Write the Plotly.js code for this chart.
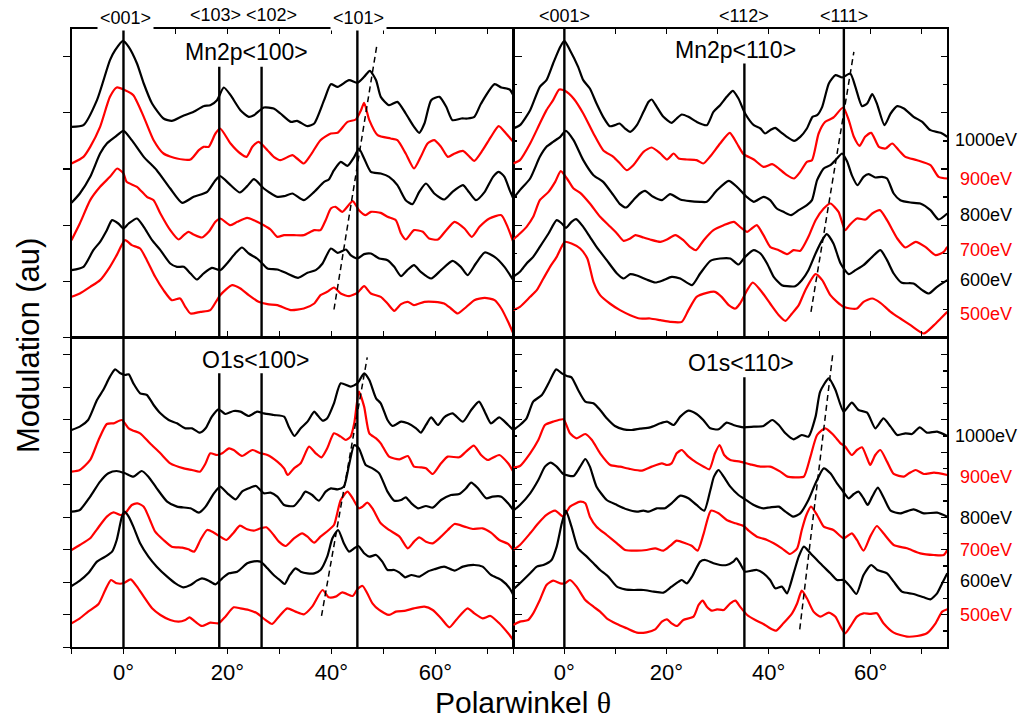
<!DOCTYPE html>
<html>
<head>
<meta charset="utf-8">
<script src="https://cdn.plot.ly/plotly-3.0.1.min.js"></script>
<style>html,body{margin:0;padding:0;background:#fff;}#chart{width:1034px;height:719px;}</style>
</head>
<body>
<div id="chart"></div>
<script>
// ---------------- DATA ----------------
const energies = ['1000eV', '900eV', '800eV', '700eV', '600eV', '500eV'];
const energyColors = ['#000000', '#ff0000', '#000000', '#ff0000', '#000000', '#ff0000'];

const dir100Angles = [0, 18.43, 26.57, 45];
const dir100Labels = ['<001>', '<103>', '<102>', '<101>'];
const dir110Angles = [0, 35.26, 54.74];
const dir110Labels = ['<001>', '<112>', '<111>'];

const panelTitles = ['Mn2p<100>', 'Mn2p<110>', 'O1s<100>', 'O1s<110>'];
const xTickVals = [0, 20, 40, 60];

// Mn2p <100>  (polar angle in degrees, modulation in au incl. offset)
const mn100_1000_ang = [-10,-7.7,-5.1,-2.6,-1.6,-0.1,1.0,2.6,3.9,5.5,7.7,9.3,11.3,13.5,15.4,16.7,18.0,19.3,20.6,22.5,24.1,25.1,27.0,28.9,30.2,32.2,33.4,35.4,36.7,38.6,39.9,41.2,43.4,45.0,46.3,47.4,48.6,49.5,51.1,52.7,54.3,55.9,56.9,57.9,59.2,60.8,62.1,63.3,65.0,66.2,67.5,68.8,71.4,72.7,74.3,75];
const mn100_1000_mod = [63.2,63.7,71.2,83.2,86.2,89.0,87.2,82.2,76.2,70.2,65.7,65.0,66.4,67.7,69.4,69.7,71.2,75.0,72.7,68.2,66.2,66.7,69.0,68.7,67.2,64.7,65.0,63.4,64.2,71.2,76.0,75.2,77.2,76.4,78.2,80.0,77.2,72.2,69.7,70.7,67.2,63.2,61.4,64.2,71.2,72.2,69.2,65.2,65.7,65.7,66.2,70.2,76.0,75.0,74.4,72.7];
const mn100_900_ang = [-10,-7.7,-6.4,-4.5,-2.6,-1.3,0.3,1.9,3.9,5.8,7.7,10.3,12.9,14.5,15.4,16.4,17.7,18.6,20.6,22.5,23.7,24.8,26.0,27.7,28.9,30.2,32.5,33.4,34.7,36.0,37.9,39.9,41.2,43.1,44.7,45.7,46.3,47.3,48.9,51.4,52.7,54.3,55.9,57.2,58.5,59.8,61.1,62.4,63.7,65.3,66.6,67.5,69.1,70.7,72.2,73.6,75];
const mn100_900_mod = [52.2,54.2,57.2,63.2,72.2,75.0,74.2,72.7,66.2,59.2,55.2,53.7,53.4,56.2,57.2,57.2,61.2,62.7,58.2,55.2,54.2,57.2,58.7,56.2,54.2,53.2,54.7,53.7,52.2,54.7,59.2,61.2,61.4,64.7,65.4,68.2,70.4,65.2,60.7,59.7,59.2,55.2,50.7,54.2,58.2,59.2,57.2,54.2,55.2,56.0,54.2,53.0,56.2,60.2,63.4,61.2,58.7];
const mn100_800_ang = [-10,-8.4,-6.4,-4.5,-3.2,-1.6,0,1.6,3.9,6.4,9.0,11.3,13.5,16.1,17.7,18.6,20.6,22.4,23.8,25.1,27.0,29.6,30.9,32.5,34.7,36.7,38.6,39.5,40.5,41.8,43.1,44.4,45.3,46.3,47.6,49.5,51.1,52.7,54.3,55.6,56.9,58.2,59.8,61.7,63.3,65.3,66.2,67.8,69.5,71.1,72.2,73.3,74.3,75];
const mn100_800_mod = [40.4,43.2,48.2,55.2,58.2,60.2,62.0,59.2,54.2,50.2,44.7,40.4,42.2,43.7,47.2,48.4,45.7,43.5,45.4,47.5,44.7,42.2,42.4,43.2,41.2,43.7,46.7,47.4,50.2,52.7,51.5,54.2,56.7,53.7,49.7,49.2,48.2,45.7,41.2,40.0,43.7,46.2,43.2,41.4,43.7,45.7,44.2,41.2,43.7,48.2,49.7,48.2,44.2,41.7];
const mn100_700_ang = [-10,-8.4,-6.4,-4.5,-2.6,-1.2,0,0.6,2.6,4.5,5.8,7.1,9.0,10.6,11.6,12.5,13.5,15.1,16.4,17.7,18.6,20.6,21.9,23.8,25.1,27.0,28.3,29.6,30.9,32.8,34.7,36.7,37.9,38.9,39.9,40.8,42.1,44.1,45.3,46.6,47.6,49.5,50.8,52.4,53.4,54.3,55.9,57.6,58.8,60.5,62.1,63.7,65.6,67.0,68.5,70.4,72.7,73.9,75];
const mn100_700_mod = [29.2,34.2,41.2,45.2,48.2,50.7,49.2,46.7,45.2,42.2,41.2,37.2,32.2,29.4,30.7,31.7,30.9,30.0,31.7,34.7,35.7,33.7,34.7,35.9,35.2,33.7,32.4,30.2,30.7,30.7,30.7,32.2,32.2,35.2,38.7,39.2,37.7,40.9,38.2,36.7,37.7,37.4,36.2,35.2,31.2,29.4,32.2,31.7,29.7,29.4,32.2,34.7,32.7,30.2,33.2,35.7,36.7,33.2,28.6];
const mn100_600_ang = [-10,-7.7,-5.8,-4.5,-3.2,-2.2,-1.0,0,1.0,2.6,3.9,5.5,7.1,9.0,10.3,11.6,12.9,14.1,15.4,17.0,18.6,19.9,21.5,22.8,24.1,25.7,26.7,27.7,29.6,31.5,33.6,35.4,37.0,38.3,39.9,41.2,42.8,43.7,45.0,46.3,47.6,49.2,50.8,52.1,53.4,54.6,55.9,57.2,59.2,61.1,63.3,64.9,66.2,67.8,69.5,71.4,73.3,75];
const mn100_600_mod = [20.2,21.2,26.2,28.7,32.2,35.2,34.2,32.7,34.2,35.7,33.2,29.2,26.2,22.2,21.2,21.2,19.2,17.4,19.2,20.9,20.2,22.2,25.2,27.0,25.2,23.7,22.2,20.7,20.4,19.2,17.9,19.4,20.2,22.2,26.7,25.4,26.4,24.7,23.7,25.0,25.2,23.7,23.2,21.2,18.4,20.2,21.7,19.7,17.7,20.2,23.0,21.2,18.7,22.2,25.5,24.2,21.2,17.2];
const mn100_500_ang = [-10,-8.4,-6.4,-4.5,-2.6,-1.3,0.3,1.6,3.2,4.5,6.1,7.7,9.3,10.9,11.9,12.9,14.8,16.7,18.6,20.9,22.5,24.1,26.0,27.7,29.6,32.2,34.7,36.7,37.9,39.2,40.5,41.8,43.4,45.0,46.3,47.6,49.5,50.8,52.1,53.4,54.7,55.9,57.9,59.8,61.7,63.0,64.3,65.6,67.5,69.5,71.4,72.7,74.0,75];
const mn100_500_mod = [12.2,13.2,15.2,17.2,21.2,24.7,29.2,27.7,26.7,23.2,18.2,14.2,11.2,11.7,9.2,7.2,7.7,8.2,12.7,15.7,14.7,12.7,10.7,10.0,9.7,8.2,8.7,10.2,12.7,13.7,15.0,13.2,12.4,13.4,15.4,13.2,12.2,10.2,8.0,10.0,10.7,9.7,10.7,10.7,10.2,8.7,7.2,8.7,11.2,11.9,11.2,8.7,4.7,1.2];

// Mn2p <110>
const mn110_1000_ang = [-10,-8.7,-6.7,-4.8,-3.5,-2.2,-0.8,0,1.1,2.7,3.7,5.0,6.3,7.6,8.9,9.9,10.8,11.9,12.9,14.2,15.5,16.5,17.1,18.1,19.4,21.0,22.0,23.0,24.3,25.9,27.9,29.2,30.5,31.8,33.0,34.1,35.4,37.1,38.4,39.3,40.3,41.3,42.3,43.6,45.0,46.2,47.5,48.6,49.5,50.5,51.8,53.1,54.4,56.0,57.0,58.3,59.3,60.3,61.2,62.7,63.9,65.2,66.5,68.4,70.1,71.7,73.7,75];
const mn110_1000_mod = [62.7,63.7,68.2,75.2,77.2,82.2,87.2,89.0,86.2,81.2,77.2,74.7,70.2,66.2,63.4,63.7,64.2,62.7,61.7,63.7,67.7,70.7,71.4,69.2,66.2,64.4,65.7,66.9,66.2,64.7,63.7,67.7,69.7,72.2,74.0,71.7,67.2,63.7,62.7,61.2,62.2,62.9,61.7,60.2,59.0,60.2,62.7,66.2,66.7,69.2,76.2,78.7,78.0,79.2,75.2,69.4,70.2,73.0,70.2,63.7,67.2,69.4,68.7,66.2,64.7,62.2,61.4,60.2];
const mn110_900_ang = [-10,-8.7,-6.7,-4.8,-3.5,-2.2,-1.0,0.1,1.8,3.7,5.7,7.6,9.6,10.9,12.2,13.5,15.5,17.1,18.8,20.1,21.4,22.4,24.0,25.9,27.2,28.5,30.5,32.4,33.8,35.1,37.1,39.0,40.7,41.6,43.6,45.0,46.2,47.5,48.5,49.8,51.1,52.7,54.6,55.7,56.7,57.8,58.9,60.1,61.6,62.9,64.2,65.5,66.8,69.1,71.7,73.3,75];
const mn110_900_mod = [52.2,53.2,58.2,64.2,68.2,71.2,74.4,74.0,71.7,67.2,61.2,56.2,54.2,52.2,50.2,51.7,55.7,57.0,55.2,53.4,55.2,53.7,53.4,53.2,52.2,54.2,58.2,61.4,58.2,55.0,53.4,51.2,52.0,51.2,48.7,47.7,49.7,52.7,53.2,61.2,64.7,66.0,69.0,65.2,60.2,57.5,60.2,61.4,57.2,56.7,58.2,56.2,54.2,53.2,51.7,48.2,47.7];
const mn110_800_ang = [-10,-8.7,-6.7,-4.8,-3.5,-2.2,-0.8,0.3,1.8,3.7,5.7,7.6,9.6,10.9,12.1,13.5,14.8,15.8,17.4,19.1,20.7,22.7,24.6,26.6,27.9,29.9,32.2,33.8,35.7,37.1,39.0,40.3,41.6,42.9,44.4,45.9,47.5,48.5,49.5,50.8,52.1,53.4,54.4,55.4,56.3,57.4,58.6,59.6,60.9,62.2,63.2,64.5,65.8,67.8,69.7,71.7,73.3,75];
const mn110_800_mod = [41.7,44.2,47.7,54.2,57.2,58.7,60.2,62.0,59.2,53.2,48.7,46.7,42.7,40.0,39.0,41.2,43.2,44.0,42.2,41.2,43.0,41.4,40.9,40.7,40.7,44.2,47.0,45.2,42.2,40.7,42.2,41.2,38.7,37.7,36.7,38.2,39.7,41.2,47.2,50.7,51.7,53.7,55.2,52.7,48.7,45.7,48.2,49.0,48.0,48.2,47.7,43.2,41.2,40.5,40.2,38.2,35.4,37.2];
const mn110_700_ang = [-10,-8.7,-7.4,-6.1,-4.8,-3.1,-1.8,-0.7,0.5,1.8,3.1,5.0,7.0,9.0,10.3,11.6,12.9,13.9,15.5,16.8,18.8,20.1,21.7,23.3,24.6,25.8,27.3,29.2,31.2,33.2,34.4,35.8,36.7,37.7,39.0,40.3,42.0,43.6,44.9,46.2,47.8,49.2,50.8,52.1,53.7,55.0,56.0,57.3,59.0,60.3,61.8,63.2,65.2,66.8,68.8,70.7,72.7,74.3,75];
const mn110_700_mod = [29.4,31.2,33.2,36.2,41.2,43.7,46.7,49.9,47.7,44.7,43.4,40.2,36.2,33.2,31.2,29.0,29.7,30.7,30.0,29.4,28.7,29.4,30.7,29.2,27.2,26.2,29.2,32.2,33.7,34.7,33.2,31.7,32.7,33.7,30.7,27.2,26.2,25.0,26.2,26.0,30.2,35.2,38.7,40.2,37.7,32.2,34.0,35.7,35.4,37.2,38.2,35.2,29.7,27.0,28.7,27.2,24.7,25.7,27.2];
const mn110_600_ang = [-10,-8.7,-7.4,-6.1,-4.8,-3.1,-1.5,-0.5,0.3,1.4,2.3,3.7,5.0,6.3,8.3,10.3,11.6,12.9,14.2,16.1,17.8,19.4,21.0,22.7,25.0,26.6,28.6,30.5,32.5,34.1,35.4,37.1,38.4,39.7,41.0,42.6,43.6,45.2,46.5,47.8,49.2,50.5,51.4,52.7,54.1,55.7,57.0,58.6,60.3,61.9,63.2,64.5,66.1,68.4,70.1,71.4,73.0,75];
const mn110_600_mod = [18.2,19.7,22.2,24.2,27.2,31.2,35.2,34.2,32.9,34.7,35.5,33.2,30.2,27.2,23.2,19.2,17.7,19.0,18.6,17.4,16.5,17.2,18.2,17.7,15.7,19.2,23.0,23.7,23.7,21.9,24.2,26.2,25.2,22.2,18.2,15.7,15.4,15.4,17.2,20.2,25.2,29.2,31.0,28.2,22.2,19.0,20.2,21.7,24.2,26.2,23.2,19.2,16.4,16.2,14.2,13.2,15.2,17.2];
const mn110_500_ang = [-10,-8.7,-6.7,-5.4,-4.1,-2.8,-1.5,0.1,1.4,3.1,4.5,5.7,7.0,8.9,10.9,12.9,14.8,16.8,18.8,20.7,23.0,24.3,25.9,27.9,29.5,30.8,32.2,33.5,34.4,35.8,36.9,38.4,40.3,42.0,43.3,44.6,45.9,47.2,49.2,50.5,52.1,53.4,54.7,56.0,57.3,58.6,60.3,61.9,63.9,65.8,67.8,70.4,72.4,73.7,75];
const mn110_500_mod = [8.2,9.2,12.2,14.2,17.7,21.2,24.2,28.7,28.2,26.7,23.7,16.7,12.7,10.2,8.2,6.7,5.7,5.7,5.2,4.7,4.7,8.2,12.2,13.4,13.7,12.2,9.7,8.7,10.2,14.2,16.5,14.2,10.2,6.7,5.0,7.2,9.7,14.2,19.0,17.2,12.7,10.7,9.2,8.7,8.7,10.7,11.7,10.4,7.7,5.7,3.7,1.2,3.7,5.7,7.7];

// O1s <100>
const o100_1000_ang = [-10,-8.4,-6.8,-5.1,-3.9,-2.6,-1.6,-0.6,0.3,1.0,1.9,3.2,4.5,5.8,7.1,8.7,10.3,11.9,13.2,14.7,15.8,17.0,18.3,19.6,21.2,22.5,24.1,25.7,27.0,28.9,30.9,31.8,32.9,34.1,35.4,36.7,37.3,38.3,39.2,40.5,41.8,43.7,45.0,46.3,47.3,48.6,49.5,50.8,51.8,53.4,54.7,56.3,57.2,58.2,59.2,60.5,61.7,63.3,65.3,66.9,68.4,69.5,70.7,72.3,74.0,75];
const o100_1000_mod = [65.2,66.2,68.2,74.2,77.2,81.2,83.4,82.2,81.7,81.9,79.2,76.2,75.7,72.7,70.2,68.2,67.2,65.7,65.7,64.4,65.7,69.2,71.4,70.0,70.9,70.7,69.4,70.7,70.2,69.7,69.2,66.2,63.4,65.7,67.7,70.7,69.7,68.0,68.7,73.2,79.2,78.2,79.2,82.2,80.2,74.7,73.2,68.2,66.4,67.7,67.2,65.7,64.4,66.7,69.0,66.7,69.0,70.2,67.7,71.2,73.7,70.7,67.2,69.0,66.7,65.2];
const o100_900_ang = [-10,-8.4,-6.4,-4.8,-3.2,-1.9,-0.3,1.0,1.9,3.2,5.1,7.1,9.0,11.6,13.2,14.7,15.8,16.7,18.0,19.0,20.3,21.2,22.8,24.8,26.4,27.7,29.6,30.9,31.6,32.8,34.1,35.7,37.0,38.1,39.2,40.5,41.8,42.8,43.7,44.4,45.3,46.3,47.3,48.6,49.5,51.1,53.1,54.7,55.9,57.2,58.2,59.5,61.1,62.4,64.6,65.9,67.4,68.8,70.1,72.3,74.0,75];
const o100_900_mod = [52.7,53.2,56.2,62.2,67.0,67.2,68.2,65.7,65.0,64.2,61.2,58.2,55.2,53.7,53.2,52.7,55.2,58.2,57.7,58.2,59.7,59.2,57.4,59.2,58.2,57.7,55.7,53.7,51.7,53.7,55.2,60.2,58.2,57.0,59.7,64.2,63.2,62.2,63.2,67.2,76.7,72.2,64.2,62.7,61.2,57.2,56.4,57.4,54.2,54.0,53.7,52.0,55.2,57.2,57.0,58.7,60.5,57.7,56.2,57.7,55.2,52.7];
const o100_800_ang = [-10,-8.4,-6.4,-4.5,-2.9,-1.3,0.3,1.9,3.5,4.8,6.4,8.4,10.3,12.9,14.5,15.8,17.4,18.6,20.0,21.6,22.8,24.1,25.5,27.0,28.3,29.6,30.9,32.8,34.1,35.0,36.3,37.6,38.9,39.9,41.2,42.4,43.4,44.4,45.3,46.6,47.9,49.2,50.8,52.1,53.4,54.3,55.4,56.7,58.2,59.5,61.1,63.0,64.6,65.9,66.9,68.2,69.8,71.0,72.7,74.0,75];
const o100_800_mod = [40.7,41.2,45.2,49.7,52.2,52.9,52.2,51.2,52.9,51.2,47.7,43.7,42.2,41.7,40.4,42.2,46.2,48.2,46.2,44.4,46.7,47.7,48.4,46.2,46.4,45.2,42.7,42.4,44.7,46.7,45.7,44.0,46.7,47.7,47.4,48.2,54.7,60.7,59.7,54.7,53.7,52.2,46.7,44.0,44.2,45.0,43.2,41.7,42.4,41.9,44.2,45.7,46.0,47.7,49.4,47.7,44.7,45.2,45.2,43.2,41.2];
const o100_700_ang = [-10,-8.4,-6.4,-5.1,-3.2,-1.9,-0.6,0.3,1.6,2.7,3.9,5.1,6.1,7.7,9.3,11.3,12.5,13.6,14.8,16.1,17.4,18.6,19.8,21.2,22.4,23.8,25.1,26.4,27.5,28.9,29.9,31.2,32.8,34.4,35.4,36.7,37.9,39.5,40.5,41.8,43.1,44.1,45.3,46.0,46.9,47.9,49.5,51.1,53.1,54.7,55.9,56.9,58.2,59.5,61.1,62.4,63.7,65.6,67.2,69.1,70.7,72.3,74.0,75];
const o100_700_mod = [29.2,30.7,32.7,35.4,39.2,40.5,39.7,40.2,42.7,43.2,42.2,38.2,34.7,32.2,30.2,29.9,29.4,28.7,32.2,35.2,34.4,33.2,32.2,34.4,36.5,35.4,35.0,35.7,36.0,33.7,31.7,30.4,32.7,34.2,33.2,31.4,33.2,35.2,36.7,44.2,46.7,44.7,41.7,42.2,43.4,41.7,37.2,35.2,33.2,29.7,31.7,33.0,31.7,31.2,33.2,35.2,37.0,36.2,35.5,35.7,34.4,32.2,31.0,29.2];
const o100_600_ang = [-10,-8.4,-6.8,-5.1,-3.5,-2.2,-1.3,-0.3,0.2,1.0,1.9,3.2,4.8,6.4,8.4,10.0,11.5,12.9,14.1,15.1,16.4,17.7,19.0,20.3,21.9,23.8,25.1,26.4,27.7,28.9,30.2,31.0,32.0,33.1,34.1,35.4,36.7,37.9,39.2,40.2,41.3,42.4,43.4,44.4,45.2,46.3,47.3,48.6,49.8,50.8,52.1,53.1,54.2,55.4,56.9,58.5,59.8,61.7,63.7,65.3,67.5,69.1,70.7,72.7,74.3,75];
const o100_600_mod = [18.4,20.0,22.2,25.7,27.2,28.7,32.2,39.2,40.7,39.2,36.2,31.2,27.2,24.2,21.2,19.2,18.0,18.7,20.0,20.7,20.0,18.9,20.7,22.2,22.7,25.2,25.8,25.7,23.7,21.7,20.0,19.0,21.7,23.7,22.7,22.2,22.2,23.2,27.2,32.7,35.2,31.2,28.7,29.7,30.4,28.2,27.2,27.7,25.7,23.2,23.2,22.4,21.0,21.7,21.2,22.7,23.4,24.2,23.0,24.2,24.7,24.2,21.7,20.2,17.7,15.7];
const o100_500_ang = [-10,-8.4,-6.8,-4.8,-3.5,-2.4,-1.3,0,1.4,2.6,3.9,5.5,7.1,9.0,10.6,11.9,12.7,13.8,15.1,16.7,18.3,19.6,21.2,22.5,24.1,25.7,27.3,28.6,29.9,31.5,33.1,34.7,36.3,38.3,39.5,40.8,42.1,44.1,45.0,46.0,46.9,47.9,49.2,51.1,52.4,54.3,55.9,57.9,59.5,61.1,62.7,64.0,66.2,67.5,69.1,70.6,72.3,74.0,75];
const o100_500_mod = [7.2,8.7,10.7,13.0,17.2,20.2,19.2,19.2,20.4,18.2,15.2,11.7,9.7,8.2,7.7,8.2,9.0,7.7,6.4,7.4,7.2,9.2,12.0,11.7,11.2,10.2,8.2,7.0,9.2,11.7,10.7,9.9,12.2,17.2,15.0,15.2,16.5,15.4,17.4,18.4,16.2,13.2,11.2,9.7,10.7,11.0,11.7,12.2,11.2,8.7,6.0,8.2,11.7,10.2,8.7,9.4,7.2,4.2,2.2];

// O1s <110>
const o110_1000_ang = [-10,-8.7,-7.4,-6.1,-4.4,-3.1,-1.6,-0.5,0.5,1.4,2.7,4.1,5.7,7.0,8.3,9.9,11.6,13.2,14.8,16.8,18.8,20.1,21.4,22.7,24.3,25.9,27.2,28.6,30.2,31.8,33.1,35.1,37.1,39.0,40.7,42.0,43.3,44.9,46.5,47.8,49.2,50.1,51.8,53.1,54.7,56.3,57.6,59.3,60.9,62.5,63.9,65.2,66.8,68.1,69.6,71.0,73.0,75];
const o110_1000_mod = [65.2,66.7,68.7,73.7,75.7,79.2,83.4,82.2,81.4,81.0,77.2,73.7,73.2,71.2,68.7,66.4,65.4,65.2,65.6,66.0,67.2,67.7,66.7,69.2,71.0,70.0,68.2,65.7,65.4,67.4,66.7,66.0,66.2,66.4,68.2,66.7,64.2,62.4,63.7,63.2,69.2,76.7,80.7,77.2,70.7,73.4,71.2,70.4,65.7,68.7,66.2,63.7,64.2,64.0,66.0,64.4,64.7,63.4];
const o110_900_ang = [-10,-8.7,-6.7,-5.1,-3.8,-2.2,-0.2,1.1,2.4,4.1,5.4,7.0,9.0,10.9,12.9,15.2,17.1,19.1,20.1,21.0,22.0,23.0,24.3,25.9,27.3,28.4,29.5,30.4,31.3,32.5,34.4,36.4,38.4,40.3,42.3,43.7,45.6,46.9,48.2,49.5,51.1,52.7,54.1,55.0,56.3,57.3,58.3,59.3,59.9,60.9,61.9,63.2,64.5,66.5,67.5,68.8,70.4,72.4,75];
const o110_900_mod = [53.9,54.4,58.2,62.2,66.7,67.7,68.4,64.2,62.7,64.0,62.2,58.2,54.7,54.2,53.5,53.0,54.2,55.2,54.7,55.2,58.2,59.2,57.2,55.4,54.2,53.4,58.2,60.7,57.7,56.2,55.7,54.9,54.2,54.2,52.7,51.2,51.0,51.2,57.2,63.7,65.7,63.7,61.2,60.2,57.7,59.2,60.0,56.7,54.7,57.7,59.2,55.7,52.0,51.2,52.2,53.2,52.0,52.4,51.7];
const o110_800_ang = [-10,-8.7,-6.7,-5.1,-3.8,-2.7,-1.5,-0.2,1.8,3.1,4.1,5.0,6.3,8.3,10.3,12.2,14.2,15.5,16.5,18.1,19.7,21.0,22.7,24.3,25.9,27.4,28.6,29.3,30.2,31.2,32.5,34.1,35.4,37.1,39.0,40.3,42.0,43.3,44.8,46.2,47.8,49.2,50.8,52.1,53.4,54.4,55.7,56.7,57.6,58.6,59.4,60.3,61.4,62.6,63.9,65.8,68.4,70.4,73.0,75];
const o110_800_mod = [41.0,42.7,46.2,50.2,54.2,55.4,54.2,52.0,51.4,54.2,56.5,54.2,48.2,44.2,42.7,41.4,40.7,41.0,40.7,41.7,41.7,43.2,45.5,44.7,42.7,41.0,47.2,51.2,53.2,51.2,48.2,45.7,44.4,42.7,41.7,42.0,42.2,40.7,39.2,40.2,44.2,49.2,53.7,52.2,49.2,47.2,44.7,46.0,46.7,44.7,42.7,45.2,47.9,44.7,41.0,40.2,41.4,40.2,40.4,39.2];
const o110_700_ang = [-10,-8.7,-6.7,-5.1,-3.5,-1.8,-0.2,1.1,3.1,4.1,5.0,6.3,8.3,10.3,11.9,14.2,16.1,17.8,19.4,20.7,22.0,23.7,25.0,26.1,27.3,28.7,30.2,31.8,33.5,35.1,36.1,37.7,38.7,39.7,41.0,42.6,44.2,45.6,46.5,47.4,48.3,49.5,50.8,52.7,54.7,56.3,57.3,58.6,59.9,61.2,62.5,64.5,67.1,69.7,72.4,74.3,75];
const o110_700_mod = [29.2,30.7,34.2,37.2,39.7,41.0,39.2,42.2,43.7,43.2,39.2,36.2,33.7,31.2,29.2,29.0,29.2,29.7,29.0,30.4,32.0,31.2,30.4,29.0,34.2,41.0,40.2,38.2,37.2,36.4,35.0,33.2,32.7,32.2,31.2,29.7,28.0,29.7,35.2,39.7,42.2,39.7,36.2,35.2,32.7,34.2,32.2,29.0,33.2,36.4,34.2,30.7,29.7,28.2,27.7,27.7,29.2];
const o110_600_ang = [-10,-8.7,-6.7,-5.4,-4.1,-2.5,-1.5,-0.5,0.3,1.4,2.7,4.4,5.7,7.0,8.6,10.3,11.9,13.5,15.5,17.5,19.4,21.0,22.4,23.0,24.0,25.0,26.6,27.6,29.2,30.5,31.8,33.1,33.7,34.4,35.4,36.7,37.7,39.0,40.3,41.3,42.6,43.6,44.9,45.9,46.9,48.2,50.1,52.1,53.4,54.7,56.0,57.2,58.6,60.1,61.3,63.2,64.5,66.1,68.4,70.4,71.7,73.0,74.0,75];
const o110_600_mod = [17.4,19.2,22.2,24.2,24.7,26.2,30.2,37.2,41.0,36.2,29.7,27.2,25.2,23.2,21.2,18.2,17.4,17.2,17.2,16.7,16.4,18.2,19.7,20.2,19.2,21.2,25.7,26.2,25.2,24.7,24.7,25.7,26.7,25.2,22.7,23.0,23.2,22.2,20.2,17.7,18.2,16.2,22.2,27.2,30.2,28.2,25.2,22.2,20.2,20.2,18.2,16.0,21.7,24.7,23.2,22.2,19.7,16.7,16.0,15.0,14.4,16.2,19.2,22.2];
const o110_500_ang = [-10,-8.7,-7.1,-6.1,-4.8,-3.5,-2.2,-0.8,0.1,1.1,2.4,4.1,5.7,7.0,8.3,10.3,12.2,14.2,16.1,17.8,19.1,20.1,21.0,22.1,23.3,25.3,26.3,27.1,27.9,28.9,29.9,31.2,32.5,33.5,34.4,35.8,37.4,39.0,40.3,41.5,42.9,44.6,45.6,46.5,47.5,48.8,50.1,51.8,53.1,54.1,55.0,56.0,57.3,58.6,59.9,61.2,62.5,64.5,67.1,69.1,71.0,72.7,74.0,75];
const o110_500_mod = [6.7,7.7,8.2,10.2,14.2,18.7,20.0,19.2,19.2,20.2,18.2,14.2,12.2,10.7,8.7,7.0,5.7,4.4,4.5,5.4,7.7,8.4,7.2,6.4,8.2,9.2,12.7,14.0,12.2,11.0,11.4,11.2,13.2,14.0,12.2,9.7,8.2,7.0,5.7,5.0,7.2,10.2,13.2,17.0,14.7,10.7,9.2,10.4,9.2,6.2,4.2,6.2,9.2,10.2,10.0,10.2,7.2,4.4,3.2,3.4,4.2,7.2,10.7,11.4];

// dashed guide lines following the shifting peak
const mn100_guide_ang = [40.5, 48.7];
const mn100_guide_mod = [8.4, 87.2];
const mn110_guide_ang = [48.3, 56.7];
const mn110_guide_mod = [7.7, 85.7];
const o100_guide_ang = [38.1, 46.9];
const o100_guide_mod = [9.4, 87.0];
const o110_guide_ang = [46.1, 52.6];
const o110_guide_mod = [5.4, 88.4];

// ---------------- BUILD ----------------
const FONT = 'Liberation Sans, Arial, sans-serif';
const panels = [
  {xa: 'x',  ya: 'y',  curves: [[mn100_1000_ang, mn100_1000_mod],[mn100_900_ang, mn100_900_mod],[mn100_800_ang, mn100_800_mod],[mn100_700_ang, mn100_700_mod],[mn100_600_ang, mn100_600_mod],[mn100_500_ang, mn100_500_mod]], guide: [mn100_guide_ang, mn100_guide_mod]},
  {xa: 'x2', ya: 'y2', curves: [[mn110_1000_ang, mn110_1000_mod],[mn110_900_ang, mn110_900_mod],[mn110_800_ang, mn110_800_mod],[mn110_700_ang, mn110_700_mod],[mn110_600_ang, mn110_600_mod],[mn110_500_ang, mn110_500_mod]], guide: [mn110_guide_ang, mn110_guide_mod]},
  {xa: 'x3', ya: 'y3', curves: [[o100_1000_ang, o100_1000_mod],[o100_900_ang, o100_900_mod],[o100_800_ang, o100_800_mod],[o100_700_ang, o100_700_mod],[o100_600_ang, o100_600_mod],[o100_500_ang, o100_500_mod]], guide: [o100_guide_ang, o100_guide_mod]},
  {xa: 'x4', ya: 'y4', curves: [[o110_1000_ang, o110_1000_mod],[o110_900_ang, o110_900_mod],[o110_800_ang, o110_800_mod],[o110_700_ang, o110_700_mod],[o110_600_ang, o110_600_mod],[o110_500_ang, o110_500_mod]], guide: [o110_guide_ang, o110_guide_mod]}
];

const traces = [];
panels.forEach(p => {
  p.curves.forEach((c, i) => {
    traces.push({type: 'scatter', mode: 'lines', x: c[0], y: c[1], xaxis: p.xa, yaxis: p.ya,
      name: energies[i], showlegend: false, hoverinfo: 'skip',
      line: {color: energyColors[i], width: 2.2, shape: 'spline', smoothing: 0.6}});
  });
  traces.push({type: 'scatter', mode: 'lines', x: p.guide[0], y: p.guide[1], xaxis: p.xa, yaxis: p.ya,
    showlegend: false, hoverinfo: 'skip', line: {color: '#000', width: 1.5, dash: '6px,4px'}});
});

const LEFT = [0.06915, 0.49642], RIGHT = [0.49642, 0.91615];
const TOP = [0.53060, 0.96036], BOT = [0.09972, 0.53060];
const TOPRANGE = [0, 92.7], BOTRANGE = [0, 92.95];

function xax(domain, anchor, bottom) {
  const a = {domain: domain, anchor: anchor, range: [-10, 75], showgrid: false, zeroline: false,
    showline: true, linecolor: '#000', linewidth: 1.5, mirror: 'ticks', ticklen: 5, tickwidth: 1.2,
    tickcolor: '#000', fixedrange: true};
  if (bottom) {
    Object.assign(a, {ticks: 'outside', tickmode: 'array', tickvals: xTickVals,
      ticktext: xTickVals.map(v => v + '°'), tickfont: {family: FONT, size: 22, color: '#000'},
      minor: {tickmode: 'linear', tick0: 0, dtick: 10, ticks: 'outside', ticklen: 5, tickcolor: '#000', tickwidth: 1.2}});
  } else {
    Object.assign(a, {ticks: 'inside', tick0: 0, dtick: 10, showticklabels: false});
  }
  return a;
}
function yax(domain, anchor, range, step, right) {
  const a = {domain: domain, anchor: anchor, range: range, showgrid: false, zeroline: false,
    showline: true, linecolor: '#000', linewidth: 1.5, mirror: 'ticks', showticklabels: false,
    tick0: 0, dtick: step, tickcolor: '#000', tickwidth: 1.2, fixedrange: true};
  if (right) {
    Object.assign(a, {side: 'right', ticks: 'inside', ticklen: 6,
      minor: {tick0: 0, dtick: step / 2, ticks: 'inside', ticklen: 4, tickcolor: '#000', tickwidth: 1.2}});
  } else {
    Object.assign(a, {ticks: 'outside', ticklen: 7});
  }
  return a;
}

const shapes = [];
const lineStyle = {color: '#000', width: 2.4};
const yTopPaper = TOP[1], yBotPaper = BOT[0];
// <100> column
dir100Angles.forEach((ang, i) => {
  if (i === 0 || i === 3) {
    shapes.push({type: 'line', xref: 'x', yref: 'paper', x0: ang, x1: ang, y0: yBotPaper, y1: yTopPaper, line: lineStyle});
  } else {
    shapes.push({type: 'line', xref: 'x', yref: 'y', x0: ang, x1: ang, y0: 0, y1: 81.2, line: lineStyle});
    shapes.push({type: 'line', xref: 'x3', yref: 'y3', x0: ang, x1: ang, y0: 0, y1: 82.2, line: lineStyle});
  }
});
// <110> column
dir110Angles.forEach((ang, i) => {
  if (i === 0 || i === 2) {
    shapes.push({type: 'line', xref: 'x2', yref: 'paper', x0: ang, x1: ang, y0: yBotPaper, y1: yTopPaper, line: lineStyle});
  } else {
    shapes.push({type: 'line', xref: 'x2', yref: 'y2', x0: ang, x1: ang, y0: 0, y1: 82.2, line: lineStyle});
    shapes.push({type: 'line', xref: 'x4', yref: 'y4', x0: ang, x1: ang, y0: 0, y1: 81.0, line: lineStyle});
  }
});

const esc = s => s.replace(/</g, '&lt;').replace(/>/g, '&gt;');
const annotations = [];
// direction labels
const dir100Shift = [2, -4, 10, 1];
const dir100Y = [18, 15, 15, 18];
dir100Labels.forEach((lab, i) => {
  const ann = {xref: 'x', yref: 'paper', x: dir100Angles[i], y: 1 - dir100Y[i] / 719, xshift: dir100Shift[i],
    text: esc(lab), showarrow: false, font: {family: FONT, size: 18, color: '#000'}, xanchor: 'center', yanchor: 'middle'};
  if (i === 0 || i === 3) { ann.bgcolor = '#fff'; ann.borderpad = 2; }
  annotations.push(ann);
});
dir110Labels.forEach((lab, i) => {
  annotations.push({xref: 'x2', yref: 'paper', x: dir110Angles[i], y: 1 - 16 / 719,
    text: esc(lab), showarrow: false, font: {family: FONT, size: 18, color: '#000'}, xanchor: 'center', yanchor: 'middle'});
});
// panel titles
const titlePos = [[246.7, 51.7], [735, 50], [255.8, 360], [740.8, 363.3]];
panelTitles.forEach((t, i) => {
  annotations.push({xref: 'paper', yref: 'paper', x: titlePos[i][0] / 1034, y: 1 - titlePos[i][1] / 719,
    text: esc(t), showarrow: false, font: {family: FONT, size: 23, color: '#000'}, xanchor: 'center', yanchor: 'middle'});
});
// energy labels
const eLabTop = [59.4, 47.7, 36.7, 26.2, 17.2, 7.2];
const eLabBot = [63.4, 51.2, 38.7, 29.2, 20.0, 9.7];
energies.forEach((e, i) => {
  annotations.push({xref: 'paper', yref: 'y2', x: 986 / 1034, y: eLabTop[i], text: e, showarrow: false,
    font: {family: FONT, size: 18, color: energyColors[i]}, xanchor: 'center', yanchor: 'middle'});
  annotations.push({xref: 'paper', yref: 'y4', x: 986 / 1034, y: eLabBot[i], text: e, showarrow: false,
    font: {family: FONT, size: 18, color: energyColors[i]}, xanchor: 'center', yanchor: 'middle'});
});
// axis titles
annotations.push({xref: 'paper', yref: 'paper', x: 522.5 / 1034, y: 1 - 702 / 719,
  text: 'Polarwinkel <span style="font-family:Liberation Serif">θ</span>', showarrow: false,
  font: {family: FONT, size: 30, color: '#000'}, xanchor: 'center', yanchor: 'middle'});
annotations.push({xref: 'paper', yref: 'paper', x: 28 / 1034, y: 1 - 346 / 719, textangle: -90,
  text: 'Modulation (au)', showarrow: false, font: {family: FONT, size: 31, color: '#000'},
  xanchor: 'center', yanchor: 'middle'});

const layout = {
  width: 1034, height: 719,
  margin: {l: 0, r: 0, t: 0, b: 0, pad: 0},
  paper_bgcolor: '#fff', plot_bgcolor: '#fff',
  showlegend: false,
  font: {family: FONT, color: '#000'},
  xaxis:  xax(LEFT, 'y', false),
  yaxis:  yax(TOP, 'x', TOPRANGE, 16.85, false),
  xaxis2: xax(RIGHT, 'y2', false),
  yaxis2: yax(TOP, 'x2', TOPRANGE, 16.85, true),
  xaxis3: xax(LEFT, 'y3', true),
  yaxis3: yax(BOT, 'x3', BOTRANGE, 9.75, false),
  xaxis4: xax(RIGHT, 'y4', true),
  yaxis4: yax(BOT, 'x4', BOTRANGE, 9.75, true),
  shapes: shapes,
  annotations: annotations
};

Plotly.newPlot('chart', traces, layout, {staticPlot: true, displayModeBar: false});
</script>
</body>
</html>
